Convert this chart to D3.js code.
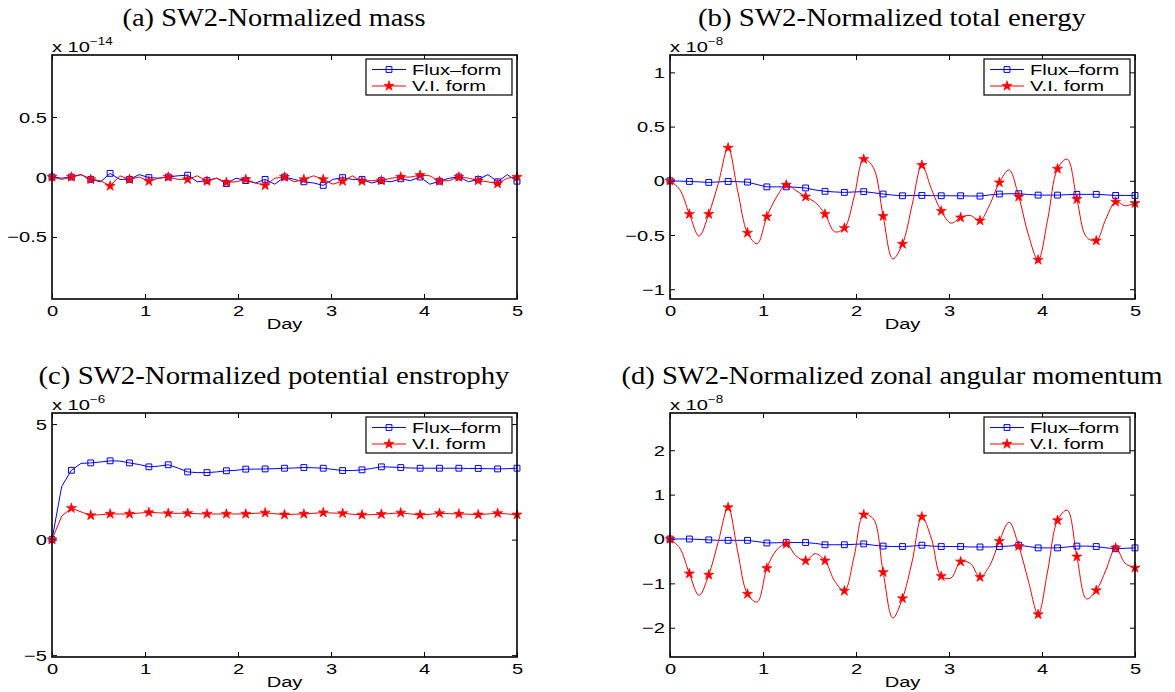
<!DOCTYPE html>
<html>
<head>
<meta charset="utf-8">
<script src="https://cdn.jsdelivr.net/npm/d3@7"></script>
<style>
body { margin: 0; background: #fff; }
</style>
</head>
<body>
<svg id="fig" width="1175" height="692"></svg>
<script>
// sample times (days) -- markers sit on every second sample (every 5 h)
const days = [0, 0.1042, 0.2083, 0.3125, 0.4167, 0.5208, 0.625, 0.7292, 0.8333, 0.9375,
  1.0417, 1.1458, 1.25, 1.3542, 1.4583, 1.5625, 1.6667, 1.7708, 1.875, 1.9792,
  2.0833, 2.1875, 2.2917, 2.3958, 2.5, 2.6042, 2.7083, 2.8125, 2.9167, 3.0208,
  3.125, 3.2292, 3.3333, 3.4375, 3.5417, 3.6458, 3.75, 3.8542, 3.9583, 4.0625,
  4.1667, 4.2708, 4.375, 4.4792, 4.5833, 4.6875, 4.7917, 4.8958, 5]
const dayTicks = [0, 1, 2, 3, 4, 5]
const seriesNames = ['Flux\u2013form', 'V.I. form']

// (a) mass, x 1e-14
const massFlux = [0,-0.01, 0,0.02, -0.02,-0.04, 0.03,-0.02, -0.02,0.02, -0.005,-0.01, 0,0.01,
  0.015,-0.04, -0.03,-0.01, -0.055,-0.01, -0.03,-0.05, -0.02,-0.06, 0,-0.02, -0.04,-0.05,
  -0.07,-0.02, -0.005,-0.02, -0.02,-0.05, -0.03,-0.04, -0.015,-0.03, 0,-0.06, -0.035,-0.01,
  0,-0.04, -0.02,0.02, -0.04,0.02, -0.035]
const massVI = [0,-0.02, 0,0.02, -0.02,-0.03, -0.075,0.01, -0.02,0.0, -0.035,-0.01, 0,-0.02,
  -0.02,0.01, -0.035,-0.01, -0.045,-0.04, -0.02,-0.05, -0.07,-0.01, 0,-0.04, -0.02,0.01,
  -0.02,-0.06, -0.035,0.01, -0.035,-0.03, -0.03,-0.01, 0,0.0, 0.015,0.01, -0.035,-0.03,
  0,-0.01, -0.03,-0.04, -0.055,-0.01, 0]
const massTicks = [-0.5, 0, 0.5]

// (b) total energy, x 1e-8
const energyFlux = [0,-0.003, -0.006,-0.01, -0.015,-0.01, -0.006,-0.008, -0.012,-0.035,
  -0.056,-0.056, -0.056,-0.06, -0.066,-0.085, -0.097,-0.103, -0.107,-0.103, -0.1,-0.11,
  -0.122,-0.132, -0.138,-0.136, -0.135,-0.137, -0.138,-0.138, -0.138,-0.14, -0.141,-0.13,
  -0.122,-0.12, -0.119,-0.126, -0.132,-0.132, -0.132,-0.128, -0.125,-0.125, -0.125,-0.13,
  -0.135,-0.135, -0.135]
const energyVI = [0,-0.08, -0.307,-0.51, -0.307,-0.02, 0.304,-0.1, -0.48,-0.58, -0.33,-0.15,
  -0.038,-0.09, -0.147,-0.2, -0.307,-0.47, -0.436,-0.15, 0.2,0.12, -0.326,-0.72, -0.583,-0.22,
  0.144,-0.08, -0.279,-0.39, -0.339,-0.32, -0.367,-0.22, -0.016,0.1, -0.147,-0.5, -0.73,-0.35,
  0.11,0.2, -0.169,-0.52, -0.552,-0.35, -0.194,-0.23, -0.207]
const energyTicks = [-1, -0.5, 0, 0.5, 1]

// (c) potential enstrophy, x 1e-6
const enstFlux = [0,2.3, 3.0,3.3, 3.32,3.36, 3.41,3.4, 3.32,3.25, 3.15,3.18, 3.24,3.1,
  2.93,2.9, 2.9,2.93, 2.98,3.0, 3.05,3.05, 3.06,3.07, 3.09,3.1, 3.12,3.11, 3.09,3.04,
  2.99,2.99, 3.02,3.08, 3.15,3.14, 3.12,3.1, 3.09,3.09, 3.09,3.09, 3.09,3.08, 3.08,3.07,
  3.06,3.07, 3.09]
const enstVI = [0,1.02, 1.36,1.2, 1.05,1.08, 1.11,1.11, 1.11,1.15, 1.18,1.16, 1.14,1.14,
  1.14,1.12, 1.11,1.11, 1.11,1.11, 1.11,1.14, 1.16,1.12, 1.08,1.1, 1.11,1.14, 1.17,1.15,
  1.14,1.1, 1.07,1.08, 1.1,1.13, 1.16,1.11, 1.07,1.1, 1.14,1.12, 1.11,1.1, 1.08,1.11,
  1.14,1.11, 1.08]
const enstTicks = [-5, 0, 5]

// (d) zonal angular momentum, x 1e-8
const momFlux = [0,0, 0,-0.01, -0.02,-0.03, -0.03,-0.03, -0.03,-0.06, -0.09,-0.085,
  -0.08,-0.08, -0.08,-0.1, -0.13,-0.13, -0.13,-0.12, -0.11,-0.14, -0.16,-0.17, -0.17,-0.16,
  -0.14,-0.16, -0.17,-0.17, -0.17,-0.18, -0.18,-0.18, -0.17,-0.16, -0.14,-0.17, -0.2,-0.2,
  -0.2,-0.18, -0.16,-0.16, -0.17,-0.2, -0.22,-0.21, -0.2]
const momVI = [0,-0.2, -0.78,-1.27, -0.81,-0.05, 0.71,-0.3, -1.24,-1.42, -0.66,-0.25,
  -0.11,-0.38, -0.49,-0.33, -0.49,-0.95, -1.17,-0.4, 0.55,0.45, -0.75,-1.78, -1.34,-0.5,
  0.5,0.0, -0.84,-0.88, -0.51,-0.55, -0.86,-0.6, -0.05,0.38, -0.16,-0.95, -1.7,-0.7,
  0.42,0.65, -0.4,-1.35, -1.16,-0.7, -0.2,-0.55, -0.65]
const momTicks = [-2, -1, 0, 1, 2]

const panels = [
  { title: '(a) SW2-Normalized mass', tx: 274, ty: 26, tlen: 303, left: 52, top: 55, flux: massFlux, vi: massVI, ticks: massTicks, dom: [-1.017, 1.017], exp: '\u221214', smooth: false },
  { title: '(b) SW2-Normalized total energy', tx: 892, ty: 26, tlen: 388, left: 670, top: 55, flux: energyFlux, vi: energyVI, ticks: energyTicks, dom: [-1.09, 1.16], exp: '\u22128', smooth: true },
  { title: '(c) SW2-Normalized potential enstrophy', tx: 274, ty: 384, tlen: 471, left: 52, top: 413, flux: enstFlux, vi: enstVI, ticks: enstTicks, dom: [-5.08, 5.48], exp: '\u22126', smooth: false },
  { title: '(d) SW2-Normalized zonal angular momentum', tx: 892, ty: 384, tlen: 541, left: 670, top: 413, flux: momFlux, vi: momVI, ticks: momTicks, dom: [-2.66, 2.84], exp: '\u22128', smooth: true }
]

const W = 465, H = 244
const SX = 1.34   // the matlab text in the figure is stretched sideways
const sans = "'Liberation Sans', Arial, sans-serif"
const blue = '#0000ff', red = '#ff0000'

const svg = d3.select('#fig')
const fmt = d => d === 0 ? '0' : (d < 0 ? '\u2212' : '') + Math.abs(d)
const square = d3.symbol().type(d3.symbolSquare).size(34)
const star = d3.symbol().type(d3.symbolStar).size(32)

function stretchText(sel) {
  sel.attr('font-family', sans).attr('font-size', 15).attr('fill', '#000')
}

panels.forEach(p => {
  svg.append('text')
    .attr('x', p.tx).attr('y', p.ty)
    .attr('text-anchor', 'middle')
    .attr('font-family', "'Liberation Serif', 'Times New Roman', serif")
    .attr('font-size', 26)
    .attr('textLength', p.tlen).attr('lengthAdjust', 'spacingAndGlyphs')
    .text(p.title)

  const g = svg.append('g').attr('transform', `translate(${p.left},${p.top})`)
  const x = d3.scaleLinear().domain([0, 5]).range([0, W])
  const y = d3.scaleLinear().domain(p.dom).range([H, 0])

  const clip = 'clip' + p.left + p.top
  g.append('clipPath').attr('id', clip).append('rect').attr('width', W).attr('height', H)

  // axes, ticks pointing inward on all four sides
  const xb = g.append('g').attr('transform', `translate(0,${H})`)
    .call(d3.axisBottom(x).tickValues(dayTicks).tickSize(-5).tickSizeOuter(0).tickFormat(d3.format('d')))
  xb.selectAll('text').attr('y', null).attr('dy', null)
    .attr('transform', `translate(0,17) scale(${SX},1)`).call(stretchText)
  g.append('g').call(d3.axisTop(x).tickValues(dayTicks).tickSize(-5).tickSizeOuter(0).tickFormat(''))
  const yl = g.append('g')
    .call(d3.axisLeft(y).tickValues(p.ticks).tickSize(-5).tickSizeOuter(0).tickFormat(fmt))
  yl.selectAll('text').attr('x', null).attr('dy', null)
    .attr('transform', `translate(-5,5) scale(${SX},1)`).call(stretchText)
  g.append('g').attr('transform', `translate(${W},0)`)
    .call(d3.axisRight(y).tickValues(p.ticks).tickSize(-5).tickSizeOuter(0).tickFormat(''))
  g.selectAll('.domain').remove()
  g.selectAll('.tick line').attr('stroke', '#000').attr('stroke-width', 1)

  // series
  const lineGen = d3.line().x((d, i) => x(days[i])).y(d => y(d))
  if (p.smooth) lineGen.curve(d3.curveCatmullRom.alpha(0.5))
  const plot = g.append('g').attr('clip-path', `url(#${clip})`)
  plot.append('path').datum(p.flux).attr('d', d3.line().x((d, i) => x(days[i])).y(d => y(d)))
    .attr('fill', 'none').attr('stroke', blue).attr('stroke-width', 1)
  plot.append('path').datum(p.vi).attr('d', lineGen)
    .attr('fill', 'none').attr('stroke', red).attr('stroke-width', 1)

  const marks = days.map((t, i) => ({ t, i })).filter(d => d.i % 2 === 0)
  g.append('g').selectAll('path').data(marks).join('path')
    .attr('transform', d => `translate(${x(d.t)},${y(p.flux[d.i])})`)
    .attr('d', square).attr('fill', 'none').attr('stroke', blue).attr('stroke-width', 1)
  g.append('g').selectAll('path').data(marks).join('path')
    .attr('transform', d => `translate(${x(d.t)},${y(p.vi[d.i])})`)
    .attr('d', star).attr('fill', red).attr('stroke', red).attr('stroke-width', 0.6)

  // box
  g.append('rect').attr('width', W).attr('height', H)
    .attr('fill', 'none').attr('stroke', '#000').attr('stroke-width', 1.6)

  // axis label and exponent
  g.append('text').attr('transform', `translate(${W / 2},${H + 30}) scale(${SX},1)`)
    .attr('text-anchor', 'middle').call(stretchText).text('Day')
  const ex = g.append('text').attr('transform', `translate(0,-3) scale(${SX},1)`).call(stretchText)
  ex.append('tspan').text('x 10')
  ex.append('tspan').attr('dy', -7).attr('font-size', 10).text(p.exp)

  // legend
  const lg = g.append('g').attr('transform', `translate(${W - 151},4)`)
  lg.append('rect').attr('width', 146).attr('height', 36)
    .attr('fill', '#fff').attr('stroke', '#000').attr('stroke-width', 1.2)
  const rows = [{ c: blue, sym: square, fill: 'none' }, { c: red, sym: star, fill: red }]
  rows.forEach((r, k) => {
    const yy = 10.5 + k * 16.5
    lg.append('line').attr('x1', 6).attr('x2', 40).attr('y1', yy).attr('y2', yy)
      .attr('stroke', r.c).attr('stroke-width', 1)
    lg.append('path').attr('transform', `translate(23,${yy})`).attr('d', r.sym)
      .attr('fill', r.fill).attr('stroke', r.c).attr('stroke-width', k ? 0.6 : 1)
    lg.append('text').attr('transform', `translate(46,${yy + 5}) scale(${SX},1)`)
      .call(stretchText).text(seriesNames[k])
  })
})
</script>
</body>
</html>
